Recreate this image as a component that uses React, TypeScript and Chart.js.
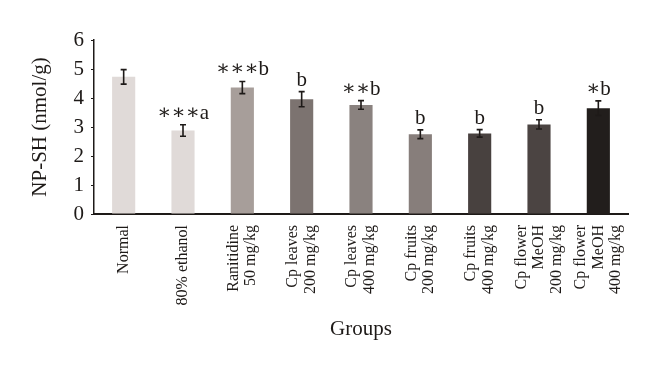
import React, { useEffect, useRef } from "react";
import { Chart, registerables } from "chart.js";

Chart.register(...registerables);

const categories: string[][] = [
  ["Normal"],
  ["80% ethanol"],
  ["Ranitidine", "50 mg/kg"],
  ["Cp leaves", "200 mg/kg"],
  ["Cp leaves", "400 mg/kg"],
  ["Cp fruits", "200 mg/kg"],
  ["Cp fruits", "400 mg/kg"],
  ["Cp flower", "MeOH", "200 mg/kg"],
  ["Cp flower", "MeOH", "400 mg/kg"],
];
const values = [4.73, 2.88, 4.36, 3.96, 3.76, 2.75, 2.78, 3.09, 3.65];
const errors = [0.25, 0.2, 0.21, 0.26, 0.15, 0.15, 0.13, 0.16, 0.25];
const annotations = ["", "∗∗∗a", "∗∗∗b", "b", "∗∗b", "b", "b", "b", "∗b"];
const barColors = [
  "#e0dad8",
  "#e0dad8",
  "#a79e9a",
  "#7c7370",
  "#8a827f",
  "#877e7b",
  "#48413f",
  "#4b4442",
  "#221e1c",
];
const yTicks = [0, 1, 2, 3, 4, 5, 6];

const FONT = "'Liberation Serif', 'DejaVu Serif', 'Times New Roman', serif";
const INK = "#1e1a18";

const errorBarPlugin = {
  id: "errorBars",
  afterDatasetsDraw(chart: any) {
    const { ctx, scales } = chart;
    const meta = chart.getDatasetMeta(0);
    const y = scales.y;
    const xs = scales.x;
    ctx.save();
    ctx.strokeStyle = INK;
    ctx.lineWidth = 1.6;
    ctx.fillStyle = INK;
    meta.data.forEach((bar: any, i: number) => {
      const x = bar.x;
      const top = y.getPixelForValue(values[i] + errors[i]);
      const bot = y.getPixelForValue(values[i] - errors[i]);
      const cap = 3;
      ctx.beginPath();
      ctx.moveTo(x, top);
      ctx.lineTo(x, bot);
      ctx.moveTo(x - cap, top);
      ctx.lineTo(x + cap, top);
      ctx.moveTo(x - cap, bot);
      ctx.lineTo(x + cap, bot);
      ctx.stroke();
      if (annotations[i]) {
        ctx.font = `21px ${FONT}`;
        ctx.textAlign = "center";
        ctx.textBaseline = "alphabetic";
        ctx.fillText(annotations[i], x, top - 6);
      }
    });
    // rotated category labels, centred on each bar
    ctx.font = `16px ${FONT}`;
    ctx.textAlign = "right";
    ctx.textBaseline = "middle";
    const lineH = 17.5;
    const axisY = y.getPixelForValue(0);
    categories.forEach((lines, i) => {
      const cx = xs.getPixelForValue(i);
      const n = lines.length;
      lines.forEach((ln, j) => {
        const off = (j - (n - 1) / 2) * lineH;
        ctx.save();
        ctx.translate(cx + off, axisY + 11);
        ctx.rotate(-Math.PI / 2);
        ctx.fillText(ln, 0, 0);
        ctx.restore();
      });
    });
    ctx.restore();
  },
};

export default function App() {
  const ref = useRef<HTMLCanvasElement | null>(null);
  useEffect(() => {
    document.body.style.margin = "0";
    const canvas = ref.current;
    if (!canvas) return;
    const chart = new Chart(canvas, {
      type: "bar",
      data: {
        labels: categories.map((c) => c.join(" ")),
        datasets: [
          {
            data: values,
            backgroundColor: barColors,
            borderWidth: 0,
            categoryPercentage: 1,
            barPercentage: 0.39,
          },
        ],
      },
      plugins: [errorBarPlugin],
      options: {
        responsive: false,
        animation: false,
        layout: { padding: { top: 40, right: 32, bottom: 30, left: 28 } },
        plugins: {
          legend: { display: false },
          tooltip: { enabled: false },
          title: { display: false },
        },
        scales: {
          x: {
            grid: { display: false, drawTicks: false },
            border: { display: true, color: INK, width: 2 },
            ticks: { display: false },
            title: {
              display: true,
              text: "Groups",
              color: INK,
              font: { family: FONT, size: 21 },
              padding: { top: 0, bottom: 0 },
            },
            afterFit(scale: any) {
              scale.height = 372 - 30 - 214;
            },
          },
          y: {
            min: 0,
            max: 6,
            afterBuildTicks(scale: any) {
              scale.ticks = yTicks.map((v) => ({ value: v }));
            },
            grid: {
              display: true,
              drawOnChartArea: false,
              drawTicks: true,
              tickLength: 3,
              color: INK,
            },
            border: { display: true, color: INK, width: 1.5 },
            ticks: {
              color: INK,
              font: { family: FONT, size: 21 },
              padding: 7,
            },
            title: {
              display: true,
              text: "NP-SH (nmol/g)",
              color: INK,
              font: { family: FONT, size: 21 },
              padding: { top: 0, bottom: 0 },
            },
            afterFit(scale: any) {
              scale.width = 94 - 28;
            },
          },
        },
      },
    });
    return () => chart.destroy();
  }, []);
  return (
    <div style={{ width: 660, height: 372, background: "#fff" }}>
      <canvas ref={ref} width={660} height={372} style={{ display: "block" }} />
    </div>
  );
}
